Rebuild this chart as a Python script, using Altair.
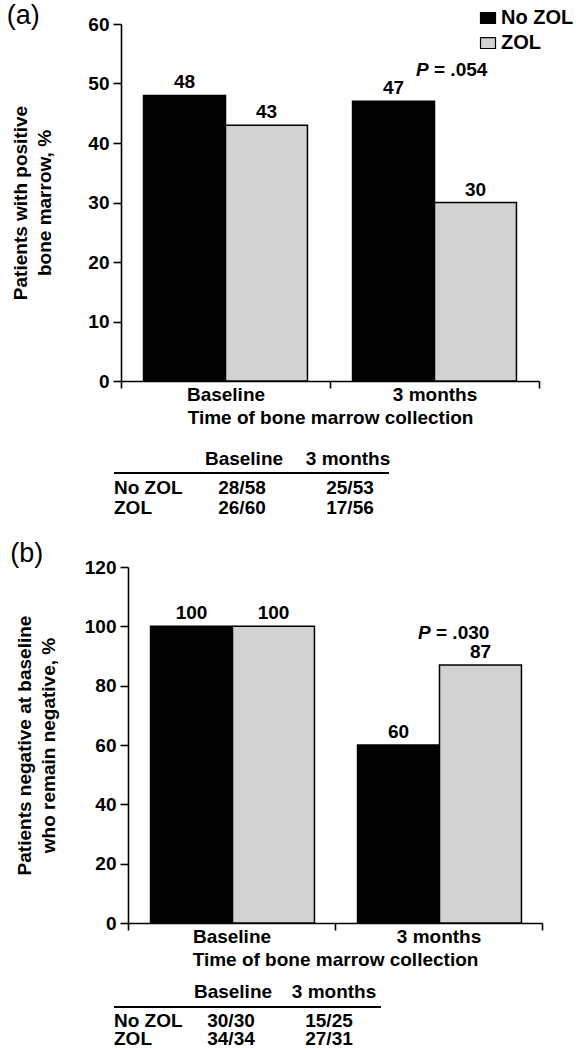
import altair as alt
import pandas as pd

# ---------------- data ----------------
groups = ["Baseline", "3 months"]
series = ["No ZOL", "ZOL"]

a_no_zol = [48, 47]
a_zol = [43, 30]
b_no_zol = [100, 60]
b_zol = [100, 87]

a_counts_no_zol = ["28/58", "25/53"]
a_counts_zol = ["26/60", "17/56"]
b_counts_no_zol = ["30/30", "15/25"]
b_counts_zol = ["34/34", "27/31"]

a_pvalue = "= .054"
b_pvalue = "= .030"

FONT = "Liberation Sans"
FS = 19
COLORS = ["#000000", "#d2d2d2"]


def bar_frame(no_zol, zol):
    rows = []
    for g, v in zip(groups, no_zol):
        rows.append({"group": g, "series": "No ZOL", "value": v})
    for g, v in zip(groups, zol):
        rows.append({"group": g, "series": "ZOL", "value": v})
    return pd.DataFrame(rows)


def panel(df, ymax, ystep, ytitle, plabel, pval, w, h, show_legend,
          p_dx, title_dy, shift, y_title_pad):
    x = alt.X("group:N", sort=groups,
              scale=alt.Scale(paddingInner=0, paddingOuter=0,
                              range=[shift, w]),
              axis=alt.Axis(title="Time of bone marrow collection",
                            labelAngle=0, tickBand="extent", tickSize=7,
                            labelPadding=-3, titlePadding=4))
    xo = alt.XOffset("series:N", sort=series,
                     scale=alt.Scale(paddingInner=0, paddingOuter=0.275))
    yaxis_kw = dict(values=list(range(0, ymax + 1, ystep)),
                    title=ytitle, grid=False, tickSize=8,
                    labelPadding=4, titlePadding=y_title_pad)
    if shift:
        yaxis_kw["offset"] = -shift
    y = alt.Y("value:Q",
              scale=alt.Scale(domain=[0, ymax], nice=False),
              axis=alt.Axis(**yaxis_kw))
    if show_legend:
        leg = alt.Legend(orient="none", legendX=357, legendY=-16, title=None,
                         symbolType="M-1,-0.73H1V0.73H-1Z", symbolSize=225,
                         symbolStrokeColor="black", symbolStrokeWidth=1.2,
                         symbolOpacity=1,
                         labelFontSize=20, labelFontWeight="bold",
                         labelFont=FONT, labelOffset=3, rowPadding=5,
                         padding=0)
    else:
        leg = None
    color = alt.Color("series:N", sort=series,
                      scale=alt.Scale(domain=series, range=COLORS),
                      legend=leg)

    bars = alt.Chart(df).mark_bar(stroke="black", strokeWidth=1.5,
                                  opacity=1).encode(
        x=x, xOffset=xo, y=y, color=color)
    labels = alt.Chart(df).mark_text(
        baseline="bottom", dy=-3, fontSize=FS, fontWeight="bold",
        font=FONT, color="black").encode(
        x=x, xOffset=xo, y=y, text="value:Q")

    top = df[df["group"] == "3 months"]["value"].max()
    pdf = pd.DataFrame([{"group": "3 months", "value": top,
                         "p": "P", "rest": pval}])
    p1 = alt.Chart(pdf).mark_text(
        align="left", baseline="middle", dx=p_dx, dy=-31.5, fontSize=FS,
        fontWeight="bold", fontStyle="italic", font=FONT,
        color="black").encode(x=x, y=y, text="p:N")
    p2 = alt.Chart(pdf).mark_text(
        align="left", baseline="middle", dx=p_dx + 18, dy=-31.5,
        fontSize=FS, fontWeight="bold", font=FONT,
        color="black").encode(x=x, y=y, text="rest:N")

    return alt.layer(bars, labels, p1, p2).properties(
        width=w, height=h,
        title=alt.TitleParams(plabel, anchor="start", frame="bounds",
                              fontSize=27, fontWeight="normal", font=FONT,
                              dx=-5, dy=title_dy, offset=0, color="black"))


def table(c_no, c_zol, w, h, label_x, head_x, cell_x, ys, rule_x2):
    hdf = pd.DataFrame({"col": groups, "text": groups})
    cdf = pd.DataFrame({
        "col": groups + groups,
        "row": ["No ZOL"] * 2 + ["ZOL"] * 2,
        "text": c_no + c_zol,
    })
    ldf = pd.DataFrame({"row": series})
    head = alt.Chart(hdf).mark_text(
        fontSize=FS, fontWeight="bold", font=FONT, baseline="middle",
        color="black").encode(
        x=alt.X("col:N", sort=groups, axis=None,
                scale=alt.Scale(type="point", range=head_x, padding=0)),
        y=alt.value(ys[0]), text="text:N")
    rule = alt.Chart(hdf).mark_rule(color="black", strokeWidth=1.8).encode(
        x=alt.value(label_x), x2=alt.value(rule_x2), y=alt.value(ys[1]))
    rowy = alt.Y("row:N", sort=series, axis=None,
                 scale=alt.Scale(type="point", range=[ys[2], ys[3]],
                                 padding=0))
    cells = alt.Chart(cdf).mark_text(
        fontSize=FS, fontWeight="bold", font=FONT, baseline="middle",
        color="black").encode(
        x=alt.X("col:N", sort=groups, axis=None,
                scale=alt.Scale(type="point", range=cell_x, padding=0)),
        y=rowy, text="text:N")
    rowlab = alt.Chart(ldf).mark_text(
        fontSize=FS, fontWeight="bold", font=FONT, baseline="middle",
        align="left", color="black").encode(
        x=alt.value(label_x), y=rowy, text="row:N")
    return alt.layer(head, rule, cells, rowlab).resolve_scale(
        x="independent").properties(width=w, height=h)


chart_a = panel(bar_frame(a_no_zol, a_zol), 60, 10,
                ["Patients with positive", "bone marrow, %"], "(a)",
                a_pvalue, 418, 357, True, -18.5, 22, 0, 33)
table_a = table(a_counts_no_zol, a_counts_zol, 280, 113, -7,
                [123, 227], [121, 229], [32, 46, 61, 81], 268)
chart_b = panel(bar_frame(b_no_zol, b_zol), 120, 20,
                ["Patients negative at baseline", "who remain negative, %"],
                "(b)", b_pvalue, 421, 356, False, -20.5, 10, 7, 26)
table_b = table(b_counts_no_zol, b_counts_zol, 280, 78, -7,
                [112, 213], [110, 208], [23, 38, 52, 70], 260)

chart = alt.vconcat(chart_a, table_a, chart_b, table_b, spacing=0).resolve_scale(
    color="independent").configure(
    font=FONT, padding={"left": 6, "top": 2, "right": 0, "bottom": 0}
).configure_view(stroke=None).configure_axis(
    labelFont=FONT, titleFont=FONT, labelFontSize=FS, labelFontWeight="bold",
    titleFontSize=19, titleFontWeight="bold", labelColor="black",
    titleColor="black", domainColor="black", tickColor="black",
    domainWidth=1.6, tickWidth=1.6, titleLineHeight=24
)

chart.save("out.html", embed_options={"renderer": "svg", "actions": False})
